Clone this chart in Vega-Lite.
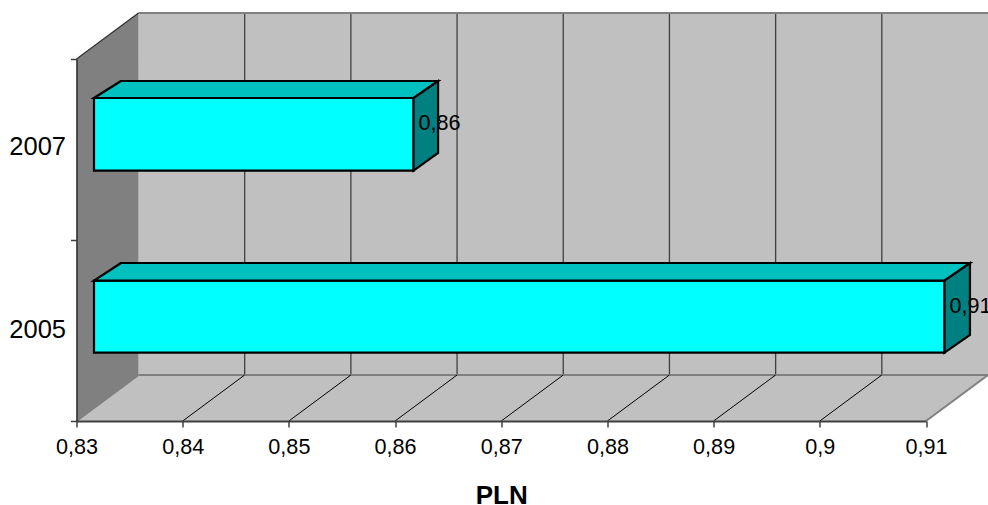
{
"$schema":"https://vega.github.io/schema/vega-lite/v6.json",
"width":849.5,"height":362,
"autosize":{"type":"none"},
"padding":{"left":76.5,"top":59,"right":62,"bottom":84},
"background":"#ffffff",
"config":{"view":{"stroke":null},"font":"Liberation Sans","locale":{"number":{"decimal":",","thousands":".","grouping":[3],"currency":["","PLN"]}}},
"datasets":{
"bars":[{"year":"2007","start":0.83,"value":0.86,"bottom":0.6914,"top":0.8923},{"year":"2005","start":0.83,"value":0.91,"bottom":0.1887,"top":0.3876}],
"topFaces":[
{"year":"2007","from":0.83165,"to":0.86174,"level":0.8923},{"year":"2007","from":0.83419,"to":0.86405,"level":0.9392},
{"year":"2005","from":0.83165,"to":0.91174,"level":0.3876},{"year":"2005","from":0.83419,"to":0.91414,"level":0.4365}],
"sideFaces":[
{"year":"2007","at":0.86174,"bottom":0.6914,"top":0.8923},{"year":"2007","at":0.86405,"bottom":0.7403,"top":0.9392},
{"year":"2005","at":0.91174,"bottom":0.1887,"top":0.3876},{"year":"2005","at":0.91414,"bottom":0.2376,"top":0.4365}],
"ticks":[{"t":0.84,"bottom":0,"top":1},{"t":0.85,"bottom":0,"top":1},{"t":0.86,"bottom":0,"top":1},{"t":0.87,"bottom":0,"top":1},{"t":0.88,"bottom":0,"top":1},{"t":0.89,"bottom":0,"top":1},{"t":0.9,"bottom":0,"top":1}],
"leftWall":[{"at":0.83,"bottom":0,"top":1},{"at":0.83584,"bottom":0.127,"top":1.127}],
"floor":[{"from":0.83,"to":0.91,"level":0},{"from":0.83584,"to":0.91584,"level":0.127}],
"years":[{"year":"2007","start":0.83,"mid":0.755},{"year":"2005","start":0.83,"mid":0.25}],
"wall":[{"from":0.83,"to":0.91,"bottom":0,"top":1}]
},
"layer":[
{"data":{"name":"wall"},
 "mark":{"type":"rect","color":"#c0c0c0","xOffset":62,"x2Offset":62,"yOffset":-46,"y2Offset":-46},
 "encoding":{
  "x":{"field":"from","type":"quantitative","scale":{"domain":[0.83,0.91],"nice":false,"zero":false},
   "axis":{"values":[0.83,0.84,0.85,0.86,0.87,0.88,0.89,0.9,0.91],"format":".2~f","grid":false,"title":"PLN","titleFontSize":26,"titleFontWeight":"bold","titleColor":"#000000","titlePadding":25,"titleFont":"Liberation Sans","labelFontSize":21.6,"labelColor":"#000000","labelFont":"Liberation Sans","labelPadding":9,"labelOverlap":false,"labelFlush":false,"tickSize":6,"tickColor":"#404040","tickWidth":1.5,"domainColor":"#404040","domainWidth":2,"zindex":1}},
  "x2":{"field":"to"},
  "y":{"field":"bottom","type":"quantitative","scale":{"domain":[0,1],"nice":false,"zero":false},
   "axis":{"values":[0,0.5,1],"labels":false,"title":null,"grid":false,"tickSize":6,"tickColor":"#404040","tickWidth":1.5,"domainColor":"#303030","domainWidth":1.5,"zindex":1}},
  "y2":{"field":"top"}}},
{"data":{"name":"ticks"},
 "mark":{"type":"rule","color":"#404040","strokeWidth":1.3,"xOffset":62,"yOffset":-46,"y2Offset":-46},
 "encoding":{"x":{"field":"t","type":"quantitative"},"y":{"field":"bottom","type":"quantitative"},"y2":{"field":"top"}}},
{"data":{"name":"wall"},
 "mark":{"type":"rule","color":"#808080","strokeWidth":2,"xOffset":62,"x2Offset":62,"yOffset":-46},
 "encoding":{"x":{"field":"from","type":"quantitative"},"x2":{"field":"to"},"y":{"field":"top","type":"quantitative"}}},
{"data":{"name":"leftWall"},
 "mark":{"type":"area","color":"#808080","orient":"vertical"},
 "encoding":{"x":{"field":"at","type":"quantitative"},"y":{"field":"bottom","type":"quantitative"},"y2":{"field":"top"}}},
{"data":{"name":"leftWall"},
 "mark":{"type":"line","color":"#303030","strokeWidth":1.2},
 "encoding":{"x":{"field":"at","type":"quantitative"},"y":{"field":"top","type":"quantitative"}}},
{"data":{"name":"floor"},
 "mark":{"type":"area","color":"#c0c0c0","orient":"horizontal"},
 "encoding":{"y":{"field":"level","type":"quantitative"},"x":{"field":"from","type":"quantitative"},"x2":{"field":"to"}}},
{"data":{"name":"floor"},
 "mark":{"type":"line","color":"#808080","strokeWidth":2},
 "encoding":{"x":{"field":"from","type":"quantitative"},"y":{"field":"level","type":"quantitative"}}},
{"data":{"name":"floor"},
 "mark":{"type":"line","color":"#808080","strokeWidth":2},
 "encoding":{"x":{"field":"to","type":"quantitative"},"y":{"field":"level","type":"quantitative"}}},
{"data":{"name":"wall"},
 "mark":{"type":"rule","color":"#808080","strokeWidth":2,"xOffset":62,"x2Offset":62,"yOffset":-46},
 "encoding":{"x":{"field":"from","type":"quantitative"},"x2":{"field":"to"},"y":{"field":"bottom","type":"quantitative"}}},
{"data":{"name":"ticks"},
 "mark":{"type":"rule","color":"#000000","strokeWidth":1,"x2Offset":62,"y2Offset":-46},
 "encoding":{"x":{"field":"t","type":"quantitative"},"x2":{"field":"t"},"y":{"field":"bottom","type":"quantitative"},"y2":{"field":"bottom"}}},
{"data":{"name":"bars"},
 "mark":{"type":"rect","color":"#00ffff","stroke":"#000000","strokeWidth":2.2,"xOffset":17.5,"x2Offset":18.5},
 "encoding":{"x":{"field":"start","type":"quantitative"},"x2":{"field":"value"},"y":{"field":"bottom","type":"quantitative"},"y2":{"field":"top"}}},
{"data":{"name":"topFaces"},
 "mark":{"type":"area","color":"#00c0c0","stroke":"#000000","strokeWidth":2.2,"orient":"horizontal"},
 "encoding":{"y":{"field":"level","type":"quantitative"},"x":{"field":"from","type":"quantitative"},"x2":{"field":"to"},"detail":{"field":"year"}}},
{"data":{"name":"sideFaces"},
 "mark":{"type":"area","color":"#008080","stroke":"#000000","strokeWidth":2.2,"orient":"vertical"},
 "encoding":{"x":{"field":"at","type":"quantitative"},"y":{"field":"bottom","type":"quantitative"},"y2":{"field":"top"},"detail":{"field":"year"}}},
{"data":{"name":"bars"},
 "mark":{"type":"text","align":"left","baseline":"middle","font":"Liberation Sans","fontSize":21.6,"color":"#000000","xOffset":23.5,"yOffset":26.5},
 "encoding":{"x":{"field":"value","type":"quantitative"},"y":{"field":"top","type":"quantitative"},"text":{"field":"value","type":"quantitative","format":".2f"}}},
{"data":{"name":"years"},
 "mark":{"type":"text","align":"right","baseline":"middle","font":"Liberation Sans","fontSize":25.5,"color":"#000000","xOffset":-10.5,"yOffset":-1},
 "encoding":{"x":{"field":"start","type":"quantitative"},"y":{"field":"mid","type":"quantitative"},"text":{"field":"year"}}}
]
}
